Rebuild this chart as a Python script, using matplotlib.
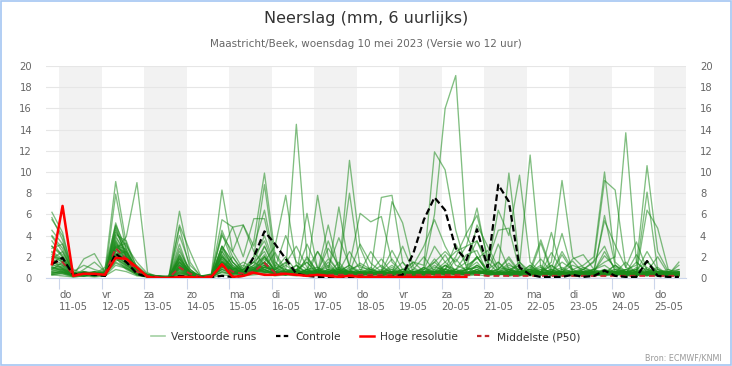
"""
Neerslag pluim (ECMWF ensemble), Maastricht/Beek, 10 mei 2023.

Reproduces the 6-hourly precipitation plume: 40 perturbed runs, control,
high-resolution run and the median, on a 15-day axis with alternating day bands.
"""

import matplotlib.pyplot as plt
import numpy as np
from matplotlib.lines import Line2D
from matplotlib.patches import Rectangle

# ── data ─────────────────────────────────────────────────────────────
DAY_NAMES = ["do", "vr", "za", "zo", "ma", "di", "wo", "do",
             "vr", "za", "zo", "ma", "di", "wo", "do"]
DAY_DATES = ["11-05", "12-05", "13-05", "14-05", "15-05", "16-05", "17-05",
             "18-05", "19-05", "20-05", "21-05", "22-05", "23-05", "24-05",
             "25-05"]

# 6-hourly totals (mm); first value ends 10-05 20:00, hours counted from 11-05 00:00
FIRST_HOUR = -4
STEP_HOURS = 6

CONTROL = ("1.3 1.9 .3 .4 .3 .2 2.3 1.5 .4 .1 | 0 0 .2 .1 0 .1 .2 .1 .2 2.0 | "
           "4.4 3.2 1.8 .4 .2 .1 .1 .1 .1 .1 | .1 .1 .1 .3 2.3 5.5 7.6 6.4 2.8 1.7 | "
           "4.6 1.0 8.8 7.2 1.0 .3 .1 .1 .1 .3 | .1 .2 .7 .2 .1 .1 1.6 .2 .1 .1")

HRES = ("1.3 6.8 .2 .4 .4 .3 1.9 1.8 1.0 .1 | 0 0 .1 .1 0 .1 1.3 .1 .2 .5 | "
        ".3 .3 .4 .3 .2 .3 .2 .1 .2 .1 | .1 .1 .1 .1 .1 .1 .1 .1 .1 .1 | "
        ".1 .1 .1 .1 .1 .1 .1 .1 .1 .1 | .1 .1 .1 .1 .1 .1 .1 .1 .1 .1")

P50 = ("1.5 1.5 .3 .4 .3 .4 2.8 1.8 .6 .2 | .1 0 1.0 .4 .1 .2 1.2 .6 .4 .6 | "
       "1.4 .5 .4 .3 .3 .3 .3 .3 .3 .3 | .3 .3 .3 .3 .3 .3 .3 .3 .3 .3 | "
       ".3 .2 .2 .2 .2 .2 .2 .2 .2 .2 | .2 .2 .2 .2 .2 .2 .2 .2 .2 .2")

MEMBERS = [
    "6.2 4.3 .3 .5 .4 .8 9.1 3.2 1.0 .2 | 0 0 2.8 .5 0 .1 2.5 1.2 .3 .8 | 2.0 .6 .4 1.2 .3 .5 1.8 .6 .2 .4 | 1.0 .3 .2 .5 .2 .8 3.0 1.5 .6 .4 | 1.2 .5 .8 2.0 .6 .3 .5 1.2 .4 .2 | .3 .6 2.1 1.0 .4 .3 1.5 .6 .2 .4",
    "5.7 3.6 .2 .8 1.5 .6 2.6 3.9 9.0 .5 | .1 0 1.8 .4 0 .2 4.5 2.0 .6 1.2 | 3.0 .8 1.5 .4 .2 2.5 .6 .3 1.0 .5 | .2 .6 1.8 .4 .2 .3 .8 2.2 .5 .3 | .6 .3 1.5 .4 .2 1.0 .5 .3 .8 1.6 | .5 .2 .4 1.2 .3 .2 .6 1.0 .3 .5",
    "5.5 4.0 .4 .3 .2 .3 7.9 2.5 .8 .1 | 0 .1 6.3 1.5 .1 0 1.2 .5 .3 .6 | 1.5 .4 .8 .3 2.0 .6 .4 1.5 .3 .2 | .5 1.2 .4 .2 .3 1.0 .4 .3 1.8 .6 | 2.0 .5 .3 .6 1.2 .4 .3 .5 2.5 .8 | .4 .3 .8 .5 .3 1.0 .4 .3 .5 .2",
    "4.5 3.2 .2 .6 .5 .4 4.7 2.0 1.2 .3 | .2 0 2.2 .3 .1 .4 8.3 2.5 .8 1.5 | 2.5 .5 .3 .8 1.5 .4 .2 .6 1.2 .4 | .3 .5 1.0 .3 .2 .6 .3 1.2 .5 .8 | 1.5 .3 .5 1.0 .4 .6 1.2 .3 .2 .5 | .8 .3 .2 .5 1.5 .4 .3 .6 .4 .3",
    "3.9 2.5 .5 .2 .4 1.0 5.0 2.8 .6 .2 | 0 0 .8 .2 0 .3 1.5 .8 1.0 3.5 | 9.9 2.2 .5 .3 .8 .4 1.5 .3 .5 .8 | .4 .2 .5 .8 .3 .4 1.5 .6 .3 .5 | .3 .8 .4 .6 1.5 .3 .5 .4 .6 .3 | .5 .8 .4 .3 .6 .2 1.0 .4 .3 .6",
    "3.0 2.0 .3 .4 .3 .5 4.3 3.0 1.5 .4 | .1 .2 1.5 .6 .1 .2 2.0 1.0 .5 2.0 | 8.8 1.5 .6 14.5 2.0 .5 .3 1.0 .6 .4 | .8 .3 .5 .2 .4 .6 .3 1.2 .5 .3 | .6 .4 .3 .8 .5 1.2 .4 .3 .5 .8 | .3 .5 .6 .4 .2 .3 .5 .8 .4 .2",
    "2.0 1.5 .2 1.8 2.3 .6 3.6 2.0 .7 .1 | .2 0 2.5 .8 0 .1 3.0 1.5 .4 1.0 | 1.5 3.0 7.8 1.2 .5 .3 .6 .4 .3 .5 | .6 .3 .4 .2 .5 1.0 6.0 16.0 19.1 4.0 | 2.0 .6 .4 .3 .8 .5 .3 .6 .4 .2 | .5 .3 .8 .4 .6 .3 .5 .3 .2 .4",
    "1.5 1.2 .4 .5 .3 .2 2.6 1.5 .5 .3 | 0 0 1.8 .4 .2 .1 2.5 4.8 5.0 2.5 | 1.2 .6 .4 .3 6.1 .8 .4 .5 .3 .6 | .4 .8 .3 .5 1.5 1.2 11.9 10.2 4.5 1.0 | .5 .8 .3 .4 .6 .3 .5 .2 .4 .6 | .3 .2 .5 .6 .3 .4 .2 .5 .3 .2",
    "1.0 .8 .3 .2 .6 .4 3.0 2.2 .8 .2 | .1 .1 1.2 .3 .1 .2 1.8 .5 .3 .8 | 1.2 .5 .6 .8 .4 7.8 2.0 .6 11.1 2.9 | .5 .3 .6 .4 .2 .5 1.8 .6 .3 .8 | 1.0 .4 .6 .3 .5 .8 .4 .6 .3 .5 | .6 .3 .4 .2 .5 .8 .3 .4 .6 .3",
    ".5 .6 .2 .4 .3 .6 2.0 1.8 .4 .1 | 0 .1 1.0 .6 .2 .3 1.0 .4 .8 1.5 | .8 .4 .6 .3 .8 1.0 .5 6.7 .8 1.2 | .6 7.6 7.8 1.5 .3 .2 .4 .6 .5 .3 | .8 .3 .4 .6 .3 .4 .5 .3 .6 .2 | .4 .6 .3 .5 .4 .3 .6 .2 .4 .3",
    ".8 .5 .3 .2 .4 .3 1.8 1.2 .6 .2 | .1 0 .6 .2 .1 .2 .8 .4 .5 .6 | 1.5 .6 1.2 .5 .3 .6 5.0 .8 8.0 1.0 | .8 .5 7.2 5.2 1.0 .4 .6 .3 .8 .5 | .4 .6 .3 .5 .2 .4 .6 .3 .5 .4 | .3 .5 .4 .2 .6 .4 .3 .5 .2 .4",
    ".4 .5 .2 .3 .2 .4 1.5 1.0 .3 .1 | 0 .1 .5 .3 0 .1 .6 .3 .4 .5 | 1.0 .8 2.0 .6 1.5 .4 .8 .6 1.2 6.1 | 5.3 5.8 1.5 .5 .3 .6 .4 .8 .5 .3 | .6 .3 .5 .2 .4 .3 .6 .4 .3 .5 | .4 .2 .5 .3 .4 .6 .3 .2 .5 .3",
    "1.2 1.0 .3 .5 .4 .2 3.2 1.5 .6 .2 | .1 0 1.5 .4 .1 .3 2.0 1.0 .5 .6 | .8 .4 .6 1.2 .5 .3 .8 .4 .6 .3 | .5 .4 .6 .3 .5 .8 1.5 2.5 1.5 3.0 | 6.6 1.5 .5 .8 1.2 11.6 1.0 .5 .3 .6 | .4 .3 .6 .5 .3 .2 .4 .6 .3 .5",
    ".8 1.5 .5 .3 .2 .5 2.8 1.8 .4 .3 | .2 .1 1.0 .5 0 .2 1.5 .6 .8 1.0 | .6 .3 .5 .8 .3 .5 .6 1.0 .4 .3 | .5 .3 .4 .8 .6 .5 1.0 .8 2.0 4.2 | 5.9 2.0 .8 9.9 1.5 .6 .4 .8 .5 .3 | .6 .4 .3 .5 .8 .4 .3 .5 .6 .3",
    ".6 .8 .2 .4 .3 .6 2.2 2.5 .8 .2 | 0 .1 .8 .3 .1 .2 1.2 .5 .4 .8 | .5 .6 .3 .4 .6 .8 .3 .5 .8 .4 | .3 .6 .4 .3 .8 .5 .6 1.2 .8 1.5 | 3.5 1.0 6.4 4.0 9.7 1.5 .5 .3 .6 .4 | .3 .5 .4 .6 .3 .5 .4 .2 .3 .6",
    "2.5 1.8 .4 .3 .5 .4 4.0 2.0 .5 .2 | .1 0 2.0 .5 .1 .2 2.8 1.2 .6 .5 | 1.0 .5 .4 .6 .3 .8 .5 .3 .6 .4 | .3 .5 .8 .4 .5 .3 .6 .4 .5 .8 | 2.0 .6 .5 1.2 .8 .5 .6 1.5 9.2 2.0 | 1.0 .5 .8 .4 .6 .3 .5 .3 .4 .2",
    "1.8 2.5 .6 .2 .3 .5 4.5 2.2 1.0 .3 | .2 .1 1.5 .3 .1 .2 1.0 .8 .6 1.2 | 2.0 .6 .4 .3 .5 .6 .3 .8 .4 .6 | .5 .3 .6 .4 .3 .5 .4 .6 .3 .5 | .8 .4 .6 .3 .5 .4 .8 .6 1.5 .8 | 1.2 2.0 10.0 1.5 .6 .4 .8 .3 .5 .4",
    "1.4 1.2 .3 .4 .6 .3 3.5 1.5 .6 .2 | .1 0 1.2 .5 .1 .1 .8 .4 .6 .8 | 1.0 .8 .5 .3 .6 .4 .8 .5 .3 .6 | .4 .6 .3 .5 .6 .3 .5 .8 .4 .6 | .5 .6 .4 .8 .3 .6 .5 .4 .6 1.2 | .8 1.5 9.2 8.3 1.0 .6 .4 .5 .3 .5",
    ".5 .6 .3 .2 .4 .6 2.0 1.0 .4 .2 | 0 .1 .6 .4 .1 .2 1.5 .6 .3 .5 | .6 .4 .3 .5 .8 .3 .6 .4 .5 .3 | .6 .4 .5 .3 .6 .8 .4 .5 .6 .3 | .5 .4 .3 .6 .8 .4 .3 .6 .5 .4 | .6 .8 1.5 2.0 13.7 1.5 .6 .5 .3 .4",
    "1.0 .8 .2 .5 .3 .2 2.4 1.2 .5 .3 | .1 0 1.0 .2 .1 .2 1.2 .8 .5 .4 | .5 .6 .4 .3 .6 .5 .3 .6 .4 .5 | .3 .5 .4 .6 .3 .4 .6 .3 .5 .4 | .8 .3 .5 .4 .6 .3 .5 .8 .4 .6 | .5 .3 .6 .4 .8 1.2 10.6 2.5 .6 .8",
    "3.0 2.2 .5 .3 .2 .4 3.8 2.5 .8 .2 | .2 .1 1.8 .6 .1 .3 2.2 .6 .4 .8 | 1.5 .5 .3 .6 .4 .3 .5 .4 .6 .3 | .4 .6 .3 .5 .4 .6 .5 .3 .6 .4 | .6 .4 .5 .3 .6 .4 .3 .5 .6 .4 | .8 .5 5.9 1.2 .5 .6 8.1 .8 .4 .3",
    "2.0 1.8 .3 .6 .4 .3 3.3 1.8 .6 .1 | 0 .1 1.4 .5 .2 .1 1.8 .8 .6 .5 | .8 .4 .6 .3 .5 .6 .4 .3 .5 .6 | .3 .5 .4 .6 .5 .3 .4 .6 .3 .5 | .6 .5 .3 .6 .4 .5 .6 .4 .3 .5 | .4 .6 .5 .8 .6 .4 6.4 4.7 .8 .5",
    "4.0 2.8 .4 .5 .3 .6 2.9 2.4 .7 .3 | .1 0 2.2 .8 .1 .2 2.0 .7 .4 .6 | 1.0 .6 .4 .8 .3 .6 1.2 .4 .6 .3 | .6 .4 .5 .3 .6 .4 .5 .8 .6 .4 | 1.2 .5 .8 .4 .6 .5 3.3 .6 .4 .5 | .5 .8 5.4 3.1 1.0 3.4 .8 .5 .4 .6",
    ".3 .5 .2 .4 .3 .5 1.6 2.0 .6 .2 | .1 0 .5 .2 .1 .3 .8 .6 .4 .6 | .8 .3 .5 .4 .6 .3 .5 .6 .4 .3 | .5 .3 .6 .4 .5 .6 .3 .5 .6 .8 | 1.0 .6 .4 .5 .6 .8 .5 4.3 .6 .4 | .3 .5 .6 .4 .5 .6 .5 .4 .3 1.5",
    ".7 .9 .3 .2 .6 .4 2.2 1.3 .5 .3 | .1 .1 .9 .4 .2 .2 1.5 .5 .4 .7 | .6 .4 .3 .5 .4 .6 .3 .5 .6 .4 | .5 .4 .3 .6 .4 .3 .5 .6 .4 .3 | .8 .4 .6 .3 .5 .8 3.6 .8 4.2 .6 | .4 .6 .3 .5 .4 .3 .6 .5 .4 .3",
    "1.5 2.0 .4 .3 .5 .2 2.6 1.6 .8 .2 | .1 0 1.6 .5 .2 .3 5.5 4.8 2.0 5.6 | 5.6 1.0 .6 .4 .8 .3 .5 .6 .4 .5 | .4 .3 .5 .6 .4 .5 .6 .4 .3 .5 | .6 .4 .5 .3 .6 .4 .5 .3 .6 .4 | .3 .5 .4 .6 .3 .5 .4 .3 .6 .4",
    "2.2 1.5 .3 .4 .2 .6 3.0 1.2 .5 .3 | .1 .2 1.3 .3 .1 .2 4.0 2.5 5.0 3.0 | 6.4 1.5 .5 .8 .4 .6 .3 .5 .6 .4 | .5 .4 .6 .3 .5 .4 .3 .6 .4 .5 | .4 .6 .3 .5 .4 .6 .3 .4 .5 .6 | .5 .3 .6 .4 .5 .3 .6 .4 .3 .5",
    ".9 1.1 .2 .5 .3 .4 4.1 3.5 .9 .2 | .2 .1 5.0 2.5 .2 .3 4.2 1.5 .6 .8 | 1.2 .5 .6 .4 .5 .3 .6 .8 .4 .3 | .3 .5 .4 .6 .5 .3 .4 .6 .5 .4 | .6 .3 .5 .4 .3 .6 .4 .5 .3 .6 | .5 .4 .3 .6 .5 .4 .3 .6 .5 .4",
    "3.5 2.0 .5 .3 .4 .3 4.9 2.0 .6 .1 | 0 0 4.8 .8 .1 .2 3.0 1.0 .5 .6 | 2.0 .8 .5 .3 .6 .4 .5 .3 .6 .5 | .4 .6 .3 .5 .4 .6 .5 .4 .6 .3 | .5 .4 .6 .3 .5 .4 .6 .3 .4 .5 | .6 .3 .5 .4 .6 .3 .5 .4 .6 .3",
    "1.8 1.3 .6 1.2 .8 .5 3.4 1.9 .7 .3 | .1 .1 4.0 1.2 .2 .1 2.2 .9 .8 1.5 | 4.0 1.2 .8 .4 .6 .3 .5 .8 .4 .6 | .3 .5 .6 .4 .5 .3 .6 .5 .4 .6 | .3 .6 .4 .5 .6 .3 .5 .4 .6 .3 | .4 .6 .3 .5 .4 .6 .3 .5 .4 .6",
    ".6 .4 .2 .3 .2 .3 1.4 .9 .4 .2 | 0 0 .4 .2 0 .1 .6 .4 .8 2.0 | 3.5 1.0 4.0 1.5 .8 2.5 1.0 3.8 1.2 .6 | 2.5 1.0 .5 1.5 .3 .5 .8 .4 .6 1.0 | 2.0 .8 1.5 .6 .4 1.2 .5 2.4 .8 .5 | 1.0 .6 2.5 .8 .5 1.5 .6 2.0 .4 .8",
    "2.8 3.2 .8 .4 .6 .2 2.3 1.8 .6 .3 | .1 0 1.2 .6 .2 .2 1.6 .8 1.2 .7 | 1.8 .8 1.4 3.0 1.0 .6 2.8 1.2 .5 3.2 | 1.4 .6 2.6 .8 .4 1.0 .5 .8 3.2 1.2 | 1.8 2.6 .6 1.4 .5 .8 .6 1.2 .5 1.8 | 2.2 .8 .5 1.2 .6 .8 1.6 .5 .8 .4",
    ".4 .7 .3 .6 .3 .5 1.9 .8 .3 .1 | 0 .1 .7 .2 .1 .1 .9 2.0 .6 1.0 | 2.2 .5 .6 .5 3.2 1.0 .4 .6 2.5 .8 | .6 1.8 .5 3.0 .6 .4 1.2 .5 .8 2.2 | 2.6 .5 3.2 .8 .4 .6 1.8 .6 1.0 .5 | .8 1.6 3.0 .6 .4 2.2 .8 .6 .4 1.2",
    "1.1 .6 .2 .3 .5 .4 2.0 1.4 .5 .2 | .1 0 .4 .3 .1 .3 2.5 .8 1.5 .9 | 1.0 2.4 .8 .6 1.8 .5 3.5 .8 .6 1.4 | .8 .5 1.2 .4 .8 2.0 .6 .9 .5 .7 | 1.2 .6 .8 1.8 .5 .6 1.0 .4 2.2 .6 | .4 .8 1.2 .5 .8 .6 2.5 .8 .5 .6",
    ".3 .4 .1 .2 .3 .2 1.2 .9 .3 .1 | 0 0 .3 .1 0 .1 .5 .3 .4 .6 | .8 .4 .3 .6 .4 .8 .3 .6 .5 .4 | .6 .3 .4 .8 1.5 .6 .5 .6 .8 .4 | .5 .8 .4 .5 .3 .6 .8 .5 .4 .6 | .5 .4 .6 .3 .5 .8 .4 .6 .5 .3",
    ".3 .2 .1 .2 .1 .2 .8 .6 .2 .1 | 0 0 .2 .1 0 0 .3 .2 .2 .3 | .4 .2 .3 .2 .4 .2 .3 .2 .3 .2 | .2 .3 .2 .3 .2 .4 .3 .2 .3 .2 | .3 .2 .4 .2 .3 .2 .3 .4 .2 .3 | .2 .3 .2 .4 .2 .3 .2 .3 .2 .3",
    "1.6 .9 .3 .4 .2 .5 3.1 2.7 .4 .2 | .1 0 1.1 .3 .1 .2 1.3 .6 .7 .9 | .7 .5 .6 .4 .8 .6 1.0 .5 .7 .4 | .5 .6 .8 .4 1.2 3.0 5.5 3.0 1.2 .8 | 5.0 3.0 1.0 .8 .5 .6 .4 .5 .8 .5 | .6 .4 .5 .8 .4 .5 .3 .6 .5 .4",
    ".9 .7 .2 .3 .4 .3 2.1 1.1 .4 .2 | .1 0 .9 .3 .1 .1 1.1 .6 .4 .8 | .6 .4 .5 .3 .6 .4 .5 .3 .6 .4 | .5 .4 .3 .6 .4 .5 .6 1.5 2.5 3.0 | 3.5 1.5 4.5 4.7 .8 .5 .6 .4 .5 .3 | .5 .6 .4 .3 .5 .4 .6 .5 .3 .4",
    "2.4 1.6 .3 .2 .3 .4 5.2 2.3 .7 .2 | .1 .1 3.2 .4 .1 .2 3.0 1.5 .6 .5 | 3.0 1.0 .5 .6 .4 .5 .3 .6 .4 .5 | .6 .3 .4 .5 .3 .6 .4 .5 .6 .3 | .4 .5 .3 .6 .5 .4 .5 .3 .6 .4 | .3 .5 .6 .4 .3 .5 .6 .3 .4 .5",
    "1.3 .9 .4 .6 .3 .2 2.9 3.3 .5 .2 | .1 0 2.0 .5 .1 .2 1.6 .7 .3 .6 | 1.2 .4 .6 .5 .3 .6 .5 .4 .3 .6 | .4 .6 .5 .3 .6 .4 .3 .6 .4 .5 | .6 .4 .5 .3 .4 .6 .5 .4 .3 .5 | .4 .3 .5 .6 .4 .3 .5 .4 .6 .3",
]

HRES_STEPS = 40  # high-resolution run stops after 10 days

# ── style ────────────────────────────────────────────────────────────
GREEN = "#1a8a1a"
GRID = "#e6e6e6"
BAND = "#f2f2f2"
AXIS = "#ccd6eb"
LABEL = "#666666"


def parse(series: str) -> list[float]:
    groups = series.split("|")
    assert all(len(g.split()) == 10 for g in groups), series
    return [float(v) for g in groups for v in g.split()]


def main() -> None:
    members = [parse(m) for m in MEMBERS]
    control = parse(CONTROL)
    hres = parse(HRES)[:HRES_STEPS]
    p50 = parse(P50)
    n = len(control)
    t = (FIRST_HOUR + STEP_HOURS * np.arange(n)) / 24.0  # days since 11-05

    fig = plt.figure(figsize=(7.32, 3.66), dpi=100)
    ax = fig.add_axes([46 / 732, 1 - 278 / 366, 640 / 732, 212 / 366])

    # alternating day bands
    for d in range(0, len(DAY_NAMES), 2):
        ax.axvspan(d, d + 1, color=BAND, lw=0, zorder=0)

    for m in members:
        ax.plot(t, m, color=GREEN, lw=0.95, alpha=0.55, zorder=2)
    ax.plot(t, p50, color="#c0282d", lw=1.4, ls=(0, (3, 2)), zorder=3)
    ax.plot(t, control, color="black", lw=1.6, ls=(0, (3, 1.5)), zorder=4)
    ax.plot(t[:HRES_STEPS], hres, color="#ff0000", lw=1.8, zorder=5)

    ax.set_xlim(-0.306, 14.75)
    ax.set_ylim(0, 20)
    ax.set_yticks(np.arange(0, 21, 2))
    ax.yaxis.grid(True, color=GRID, lw=0.8, zorder=1)
    ax.set_axisbelow(True)
    ax.tick_params(axis="y", length=0, pad=10, labelsize=7.2, labelcolor=LABEL,
                   labelright=True)

    ax.set_xticks(np.arange(len(DAY_NAMES)))
    ax.set_xticklabels([f"{n_}\n{d}" for n_, d in zip(DAY_NAMES, DAY_DATES)],
                       ha="left", fontsize=7.2, color=LABEL, linespacing=1.25)
    ax.tick_params(axis="x", length=8, width=0.8, color=AXIS, pad=1)

    for side in ("top", "left", "right"):
        ax.spines[side].set_visible(False)
    ax.spines["bottom"].set_color(AXIS)
    ax.spines["bottom"].set_linewidth(0.8)

    # titles
    fig.text(0.5, 1 - 18 / 366, "Neerslag (mm, 6 uurlijks)", ha="center",
             va="center", fontsize=11.5, color="#333333")
    fig.text(0.5, 1 - 44 / 366,
             "Maastricht/Beek, woensdag 10 mei 2023 (Versie wo 12 uur)",
             ha="center", va="center", fontsize=7.5, color=LABEL)

    handles = [
        Line2D([], [], color=GREEN, lw=1.2, alpha=0.4),
        Line2D([], [], color="black", lw=1.6, ls=(0, (2, 1.5))),
        Line2D([], [], color="#ff0000", lw=1.8),
        Line2D([], [], color="#c0282d", lw=1.6, ls=(0, (2, 1.5))),
    ]
    labels = ["Verstoorde runs", "Controle", "Hoge resolutie", "Middelste (P50)"]
    leg = fig.legend(handles, labels, loc="center",
                     bbox_to_anchor=(0.5, 1 - 337 / 366), ncol=4, frameon=False,
                     fontsize=7.7, handlelength=1.3, handletextpad=0.55,
                     columnspacing=1.8)
    for txt in leg.get_texts():
        txt.set_color("#333333")

    fig.text(722 / 732, 1 - 358 / 366, "Bron: ECMWF/KNMI", ha="right",
             va="center", fontsize=5.8, color="#999999")

    fig.patches.append(Rectangle((0.001, 0.004), 0.997, 0.994,
                                 transform=fig.transFigure, fill=False,
                                 edgecolor="#a4c6f2", lw=1.2))

    fig.savefig("out.png", dpi=100)
    plt.close(fig)


if __name__ == "__main__":
    main()
